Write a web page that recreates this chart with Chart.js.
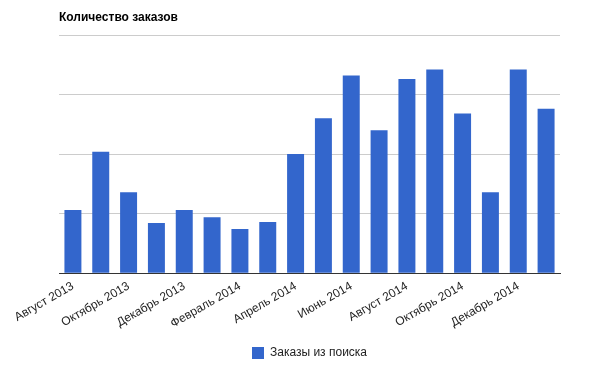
<!DOCTYPE html>
<html>
<head>
<meta charset="utf-8">
<script src="https://cdn.jsdelivr.net/npm/chart.js@4"></script>
<style>
  html, body { margin: 0; padding: 0; background: #fff; }
  #wrap { width: 600px; height: 371px; position: relative; }
</style>
</head>
<body>
<div id="wrap"><canvas id="ordersChart"></canvas></div>
<script>
// Данные
const months = ['Август 2013', 'Сентябрь 2013', 'Октябрь 2013', 'Ноябрь 2013', 'Декабрь 2013', 'Январь 2014',
    'Февраль 2014', 'Март 2014', 'Апрель 2014', 'Май 2014', 'Июнь 2014', 'Июль 2014',
    'Август 2014', 'Сентябрь 2014', 'Октябрь 2014', 'Ноябрь 2014', 'Декабрь 2014', 'Январь 2015'];
const orders = [53, 102, 68, 42, 53, 47, 37, 43, 100, 130, 166, 120, 163, 171, 134, 68, 171, 138];
const seriesName = 'Заказы из поиска';
const chartTitle = 'Количество заказов';

Chart.defaults.font.family = 'Arial, "Liberation Sans", sans-serif';
Chart.defaults.color = '#222';

// заголовок над областью графика, выровнен по её левому краю
const titlePlugin = {
    id: 'leftTitle',
    afterDraw(chart) {
        const ctx = chart.ctx;
        ctx.save();
        ctx.font = 'bold 12px Arial, "Liberation Sans", sans-serif';
        ctx.fillStyle = '#000';
        ctx.textBaseline = 'middle';
        ctx.textAlign = 'left';
        ctx.fillText(chartTitle, chart.chartArea.left, 18);
        ctx.restore();
    }
};

const ctx = document.getElementById('ordersChart').getContext('2d');
const ordersChart = new Chart(ctx, {
    type: 'bar',
    data: {
        labels: months,
        datasets: [{
            label: seriesName,
            data: orders,
            backgroundColor: '#3366cc',
            borderWidth: 0,
            categoryPercentage: 1,
            barPercentage: 0.61
        }]
    },
    options: {
        responsive: true,
        maintainAspectRatio: false,
        animation: false,
        layout: { padding: { left: 59, right: 40, top: 35, bottom: 2 } },
        plugins: {
            legend: {
                position: 'bottom',
                labels: { boxWidth: 12, boxHeight: 12, font: { size: 12 }, color: '#222', padding: 10 }
            },
            tooltip: { enabled: false }
        },
        scales: {
            x: {
                grid: { display: false, drawTicks: false },
                border: { display: true, color: '#333', width: 1 },
                ticks: {
                    autoSkip: false,
                    minRotation: 30,
                    maxRotation: 30,
                    padding: 6,
                    font: { size: 12 },
                    color: '#222',
                    callback: (v, i) => i % 2 === 0 ? months[i] : ''
                }
            },
            y: {
                min: 0,
                max: 200,
                ticks: { display: false, stepSize: 50 },
                grid: { color: '#cccccc', drawTicks: false },
                border: { display: false }
            }
        }
    },
    plugins: [titlePlugin]
});
</script>
</body>
</html>
